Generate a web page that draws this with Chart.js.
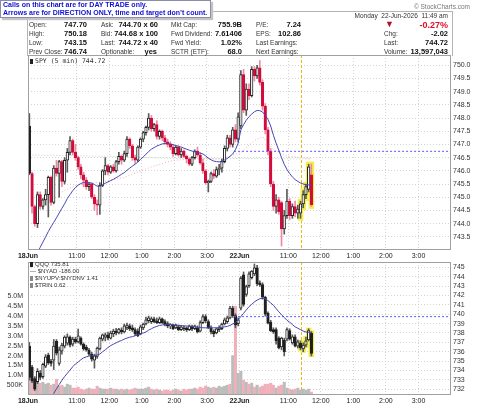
<!DOCTYPE html>
<html>
<head>
<meta charset="utf-8">
<script src="https://cdn.jsdelivr.net/npm/chart.js@4.4.1/dist/chart.umd.min.js"></script>
<style>
body{margin:0;background:#fff;font-family:"Liberation Sans",Arial,sans-serif;color:#222}
#page{position:relative;width:480px;height:406px;overflow:hidden;background:#fff}
canvas{position:absolute;left:0}
.t{position:absolute;white-space:nowrap;font-size:6.5px;line-height:8px;color:#333}
.v{position:absolute;white-space:nowrap;font-size:7.5px;line-height:8px;font-weight:bold;color:#111}
#banner{position:absolute;left:0;top:0;width:207px;height:16px;border:1px solid #8c8ca8;background:#fff;
  box-shadow:2px 2px 1px #c4c4c4;color:#1010d0;font-weight:bold;font-size:7px;line-height:8px;padding-left:2px;z-index:5}
#hdr{position:absolute;left:27px;top:11px;width:424px;height:44px;border:1px solid #b4b4b4;border-bottom:0}
.lg{position:absolute;white-space:nowrap;font-size:6.5px;line-height:7px;color:#333;z-index:3}
.ic{display:inline-block;width:3px;height:5px;background:#222;margin-right:2px;vertical-align:-1px}
</style>
</head>
<body>
<div id="page">
  <canvas id="c1" width="480" height="212" style="top:50px"></canvas>
  <canvas id="c2" width="480" height="150" style="top:256px"></canvas>

  <div id="hdr"></div>
  <div id="banner">Calls on this chart are for DAY TRADE only.<br>Arrows are for DIRECTION ONLY, time and target don’t count.</div>
  <div class="t" style="right:10px;top:3px;color:#777;font-size:6.5px">© StockCharts.com</div>
  <div class="t" style="right:32px;top:12px">Monday&nbsp; 22-Jun-2026&nbsp; 11:49 am</div>

  <!-- header rows -->
  <div class="t" style="left:29px;top:21px">Open:</div><div class="v" style="right:393px;top:21px">747.70</div>
  <div class="t" style="left:29px;top:30px">High:</div><div class="v" style="right:393px;top:30px">750.18</div>
  <div class="t" style="left:29px;top:39px">Low:</div><div class="v" style="right:393px;top:39px">743.15</div>
  <div class="t" style="left:29px;top:48px">Prev Close:</div><div class="v" style="right:393px;top:48px">746.74</div>

  <div class="t" style="left:101px;top:21px">Ask:</div><div class="v" style="right:322px;top:21px">744.70 x 60</div>
  <div class="t" style="left:101px;top:30px">Bid:</div><div class="v" style="right:322px;top:30px">744.68 x 100</div>
  <div class="t" style="left:101px;top:39px">Last:</div><div class="v" style="right:322px;top:39px">744.72 x 40</div>
  <div class="t" style="left:101px;top:48px">Optionable:</div><div class="v" style="right:323px;top:48px">yes</div>

  <div class="t" style="left:171px;top:21px">Mkt Cap:</div><div class="v" style="right:238px;top:21px">755.9B</div>
  <div class="t" style="left:171px;top:30px">Fwd Dividend:</div><div class="v" style="right:238px;top:30px">7.61406</div>
  <div class="t" style="left:171px;top:39px">Fwd Yield:</div><div class="v" style="right:238px;top:39px">1.02%</div>
  <div class="t" style="left:171px;top:48px">SCTR (ETF):</div><div class="v" style="right:238px;top:48px">68.0</div>

  <div class="t" style="left:256px;top:21px">P/E:</div><div class="v" style="right:179px;top:21px">7.24</div>
  <div class="t" style="left:256px;top:30px">EPS:</div><div class="v" style="right:179px;top:30px">102.86</div>
  <div class="t" style="left:256px;top:39px">Last Earnings:</div>
  <div class="t" style="left:256px;top:48px">Next Earnings:</div>

  <div class="t" style="left:385px;top:20px;color:#b0102a;font-size:9px">▼</div><div class="v" style="right:32px;top:20px;color:#e0102a;font-size:9px;line-height:10px">-0.27%</div>
  <div class="t" style="left:384px;top:30px">Chg:</div><div class="v" style="right:32px;top:30px">-2.02</div>
  <div class="t" style="left:384px;top:39px">Last:</div><div class="v" style="right:32px;top:39px">744.72</div>
  <div class="t" style="left:384px;top:48px">Volume:</div><div class="v" style="right:32px;top:48px">13,597,043</div>

  <!-- panel legends -->
  <div class="lg" style="left:30px;top:58px;font-family:'DejaVu Sans Mono',monospace"><span class="ic"></span>SPY (5 min) 744.72</div>
  <div class="lg" style="left:30px;top:261px;font-size:6px"><span class="ic"></span>QQQ 735.81</div>
  <div class="lg" style="left:30px;top:268px;font-size:6px">— $NYAD -186.00</div>
  <div class="lg" style="left:30px;top:275px;font-size:6px"><span class="ic" style="background:#888"></span>$NYUPV:$NYDNV 1.41</div>
  <div class="lg" style="left:30px;top:282px;font-size:6px"><span class="ic" style="background:#888"></span>$TRIN 0.62</div>
</div>

<script>
//--Datos: dos sesiones de velas de 5 min (78 por dia), la segunda hasta 11:45----
var xTickPos    = [-0.5, 17.5, 29.5, 41.5, 53.5, 65.5, 77.5, 95.5, 107.5, 119.5, 131.5, 143.5];
var xTickLabels = ['18Jun', '11:00', '12:00', '1:00', '2:00', '3:00', '22Jun', '11:00', '12:00', '1:00', '2:00', '3:00'];
var spyTicks = [743.5, 744.0, 744.5, 745.0, 745.5, 746.0, 746.5, 747.0, 747.5, 748.0, 748.5, 749.0, 749.5, 750.0];
var qqqTicks = [732, 733, 734, 735, 736, 737, 738, 739, 740, 741, 742, 743, 744, 745];
var volTicks = [0.5, 1.0, 1.5, 2.0, 2.5, 3.0, 3.5, 4.0, 4.5, 5.0];

var spyPrevClose = 746.74;
var qqqPrevClose = 739.74;
var cutIdx = 100;       // linea amarilla vertical
var hiliteFrom = 100;   // velas resaltadas en amarillo

var spyOpen = [747.70,745.90,744.65,744.00,745.10,744.65,744.90,745.10,745.75,744.80,
746.10,745.90,746.35,745.60,746.40,746.70,747.15,746.70,746.50,746.15,
745.85,745.65,745.40,745.50,745.00,744.75,744.70,745.45,746.00,746.20,
745.95,746.15,746.00,746.35,746.55,746.40,746.65,747.20,746.95,746.50,
746.40,746.90,747.20,747.45,747.65,748.00,747.60,747.75,747.30,747.50,
747.25,747.10,747.00,746.90,746.65,746.90,746.60,746.75,746.55,746.45,
746.25,746.50,746.75,746.60,746.30,746.00,745.55,745.60,745.90,745.80,
746.05,746.10,746.35,746.85,747.25,747.00,747.55,747.20,
747.70,749.65,748.30,749.10,748.85,749.85,749.60,749.90,749.35,748.45,747.55,746.75,
745.50,744.65,744.90,744.80,743.80,744.30,744.85,744.30,744.65,744.40,
744.40,744.75,745.10,745.30,745.85];
var spyHigh = [748.17,745.95,744.70,745.20,745.20,744.95,745.30,745.80,745.80,746.20,
746.40,746.40,746.40,746.50,746.85,747.30,747.20,747.00,746.55,746.25,
745.95,745.75,745.55,745.55,745.10,744.90,745.55,746.05,746.50,746.25,
746.20,746.25,746.40,746.70,746.60,746.75,747.30,747.25,747.00,746.60,
746.95,747.25,747.50,747.70,748.17,748.10,747.80,747.90,747.55,747.55,
747.35,747.20,747.10,747.00,746.95,746.95,746.85,746.80,746.60,746.50,
746.55,746.80,746.90,746.70,746.45,746.05,745.65,745.95,746.05,746.15,
746.25,746.45,746.95,747.35,747.35,747.65,747.75,748.20,
749.80,749.85,749.30,749.30,749.95,749.95,750.00,750.18,749.45,748.55,747.65,746.85,
745.60,745.10,745.00,744.85,744.50,745.30,744.95,744.75,744.85,744.70,
744.85,745.25,745.50,746.25,746.26];
var spyLow = [745.85,744.40,743.90,743.85,744.55,744.55,744.70,744.25,744.70,744.75,
745.80,745.00,745.40,745.50,745.95,746.60,746.60,746.40,746.05,745.70,
745.40,745.30,745.25,744.95,744.50,744.33,744.35,745.40,745.85,745.85,
745.90,745.95,745.95,746.25,746.25,746.35,746.55,746.85,746.40,746.28,
746.35,746.85,747.10,747.35,747.55,747.50,747.50,747.20,747.20,747.15,
747.00,746.90,746.80,746.55,746.60,746.55,746.50,746.50,746.30,746.20,
746.20,746.45,746.55,746.25,745.90,745.50,745.20,745.55,745.70,745.75,
745.85,745.95,746.30,746.75,746.90,746.90,747.10,747.10,
747.60,748.20,748.10,748.70,748.80,749.40,749.50,749.25,748.30,747.40,746.60,745.40,
744.50,744.40,744.35,743.15,743.60,744.20,744.15,744.20,744.25,744.20,
744.20,744.60,744.95,745.20,744.65];
var spyClose = [745.90,744.65,744.00,745.10,744.65,744.90,745.10,745.75,744.80,746.10,
745.90,746.35,745.60,746.40,746.70,747.15,746.70,746.50,746.15,745.85,
745.65,745.40,745.50,745.00,744.75,744.70,745.45,746.00,746.20,745.95,
746.15,746.00,746.35,746.55,746.40,746.65,747.20,746.95,746.50,746.40,
746.90,747.20,747.45,747.65,748.00,747.60,747.75,747.30,747.50,747.25,
747.10,747.00,746.90,746.65,746.90,746.60,746.75,746.55,746.45,746.25,
746.50,746.75,746.60,746.30,746.00,745.55,745.60,745.90,745.80,746.05,
746.10,746.35,746.85,747.25,747.00,747.55,747.20,748.05,
749.65,748.30,749.10,748.85,749.85,749.60,749.90,749.35,748.45,747.55,746.75,745.50,
744.65,744.90,744.45,743.80,744.30,744.85,744.30,744.65,744.40,744.55,
744.75,745.10,745.40,746.15,744.72];
var spyMA20 = [null,null,null,742.90,743.10,743.30,743.50,743.70,743.88,744.05,
744.22,744.40,744.58,744.75,744.95,745.10,745.25,745.37,745.46,745.52,
745.56,745.57,745.56,745.53,745.48,745.42,745.42,745.47,745.53,745.58,
745.63,745.68,745.74,745.80,745.87,745.93,746.02,746.10,746.18,746.25,
746.33,746.43,746.53,746.63,746.73,746.82,746.88,746.94,746.98,747.02,
747.04,747.04,747.02,746.99,746.96,746.93,746.90,746.86,746.82,746.78,
746.75,746.72,746.70,746.67,746.64,746.57,746.48,746.42,746.37,746.35,
746.34,746.37,746.41,746.47,746.55,746.64,746.80,747.05,
747.55,747.75,747.92,748.05,748.15,748.24,748.29,748.28,748.23,748.10,747.95,747.70,
747.35,747.05,746.78,746.50,746.25,746.05,745.90,745.77,745.67,745.60,
745.54,745.50,745.47,745.47,745.48];
var spyMA50Idx = [11, 17, 25, 35, 45, 53, 62, 71, 78, 83, 86, 90, 95, 104];
var spyMA50    = [745.15, 745.45, 745.55, 745.75, 746.15, 746.40, 746.45, 746.45, 746.70, 747.15, 747.30, 746.80, 746.55, 746.47];
var spyMA200Idx = [0, 30, 53, 80, 104];
var spyMA200    = [746.60, 746.55, 746.47, 746.47, 746.45];

var qqqOpen = [736.60,734.35,733.15,732.80,733.70,733.35,734.45,735.65,735.00,735.10,
737.10,734.75,736.05,736.60,736.90,737.55,736.80,737.35,737.05,737.45,
736.80,736.50,736.15,735.75,735.10,735.50,736.30,737.35,737.55,737.80,
737.45,737.90,738.20,738.00,738.30,738.10,738.55,738.75,738.55,738.35,
738.20,737.90,738.55,738.95,739.30,739.20,739.50,739.30,739.10,739.50,
739.20,739.00,738.75,738.85,738.55,738.65,738.35,738.55,738.55,738.35,
738.65,738.45,738.55,738.20,739.10,739.75,739.20,738.55,738.20,738.00,
738.35,738.45,738.95,739.20,739.60,740.65,739.85,739.00,
740.65,744.20,742.10,743.05,743.90,744.30,744.95,743.35,743.15,741.80,740.10,739.15,
738.35,738.35,737.45,736.50,737.25,737.35,738.25,736.95,737.60,736.60,
736.90,736.30,736.70,737.25,738.00];
var qqqHigh = [737.00,734.55,733.35,734.20,734.00,734.80,735.70,735.85,735.20,737.30,
737.30,736.50,736.90,737.70,737.90,737.70,737.55,737.55,738.40,737.60,
736.95,736.70,736.35,735.95,735.75,736.50,737.55,737.90,738.00,738.10,
738.20,738.40,738.50,738.50,738.55,738.95,739.05,738.95,738.85,738.55,
738.45,738.85,739.05,739.70,739.80,739.70,739.70,739.60,739.70,739.60,
739.40,739.20,739.00,738.95,738.95,738.85,738.75,738.75,738.65,738.85,
738.85,738.85,738.75,739.30,739.95,739.95,739.40,738.75,738.35,738.55,
738.75,739.05,739.60,739.80,740.85,740.85,740.05,739.60,
744.00,744.50,743.10,744.50,744.65,745.35,745.20,743.55,743.35,741.90,740.25,739.35,
738.55,738.55,737.60,737.55,737.45,738.55,738.45,737.80,737.80,737.25,
737.15,736.95,737.55,738.45,738.15];
var qqqLow = [733.00,732.70,731.85,732.60,733.00,733.15,734.30,734.65,734.45,734.10,
735.65,734.55,735.75,736.40,736.70,736.50,736.60,736.90,736.95,736.70,
736.15,736.05,735.60,735.00,734.25,735.30,736.20,737.15,737.15,737.25,
737.35,737.60,737.80,737.90,737.90,738.00,738.35,738.25,738.15,737.70,
737.60,737.80,738.35,738.85,739.10,739.00,739.10,739.00,739.00,739.00,
738.75,738.55,738.45,738.35,738.45,738.25,738.25,738.25,738.15,738.25,
738.25,738.35,738.00,738.10,739.00,739.10,738.45,737.90,737.60,737.90,
738.15,738.35,738.85,739.00,739.50,739.65,738.55,738.75,
740.45,740.85,741.90,742.85,743.75,744.10,743.05,742.95,741.60,739.80,738.95,738.15,
737.95,736.80,736.30,736.20,735.55,737.15,737.25,736.80,736.50,736.40,
736.20,736.00,736.50,737.15,735.55];
var qqqClose = [733.25,732.90,732.00,733.90,733.25,734.65,735.45,734.80,734.75,736.60,
735.85,736.20,736.70,737.55,737.60,736.70,737.35,737.05,737.70,736.80,
736.30,736.20,735.75,735.20,735.55,736.40,737.45,737.80,737.80,737.45,
738.00,738.20,738.00,738.40,738.10,738.75,738.85,738.45,738.35,737.90,
737.70,738.65,738.95,739.40,739.60,739.50,739.20,739.10,739.50,739.10,
738.85,738.75,738.85,738.45,738.85,738.35,738.65,738.45,738.35,738.75,
738.45,738.75,738.10,739.10,739.75,739.30,738.55,738.10,737.90,738.45,
738.55,738.95,739.40,739.60,740.65,739.85,738.85,739.40,
743.85,741.05,742.95,744.30,744.60,744.95,743.25,743.15,741.80,740.00,739.05,738.25,
738.15,737.15,736.40,737.45,736.00,738.35,737.35,737.60,736.60,737.05,
736.40,736.70,737.15,738.25,735.81];
var qqqMA = [null,null,null,null,null,null,null,null,731.10,731.55,
732.05,732.50,732.95,733.35,733.70,734.05,734.40,734.70,734.90,735.15,
735.35,735.45,735.55,735.55,735.60,735.65,735.75,736.00,736.20,736.45,
736.65,736.80,736.95,737.10,737.20,737.35,737.45,737.55,737.60,737.70,
737.80,737.90,738.00,738.10,738.30,738.45,738.60,738.70,738.80,738.85,
738.90,738.90,738.90,738.85,738.85,738.80,738.80,738.75,738.75,738.70,
738.70,738.65,738.60,738.60,738.55,738.55,738.55,738.55,738.55,738.55,
738.55,738.60,738.65,738.70,738.80,738.95,739.10,739.40,
739.75,740.10,740.45,740.80,741.05,741.30,741.50,741.65,741.70,741.65,741.45,741.20,
740.95,740.60,740.25,739.95,739.65,739.35,739.15,738.90,738.65,738.50,
738.35,738.20,738.10,738.05,738.00];
// volumen en millones
var volume = [0.95,0.75,0.85,0.70,0.60,0.65,0.55,0.60,0.50,0.55,
0.80,0.45,0.50,0.40,0.55,0.50,0.35,0.35,0.40,0.30,
0.25,0.30,0.35,0.30,0.30,0.45,0.35,0.30,0.30,0.30,
0.35,0.30,0.30,0.25,0.30,0.25,0.30,0.25,0.30,0.35,
0.30,0.30,0.30,0.35,0.40,0.30,0.25,0.30,0.25,0.20,
0.25,0.25,0.20,0.25,0.30,0.25,0.20,0.30,0.25,0.30,
0.30,0.35,0.30,0.40,0.35,0.45,0.40,0.35,0.40,0.35,
0.45,0.40,0.45,0.50,0.55,2.00,4.50,1.10,
1.20,0.75,0.65,0.55,0.60,0.40,0.50,0.40,0.45,0.55,0.55,0.60,
0.50,0.35,0.45,0.50,0.65,0.35,0.30,0.25,0.30,0.35,
0.25,0.30,0.25,0.30,0.15];

//--Colores----------------------------
var RED = '#d20c3c', RED_WICK = '#eb8aa0', BLACK = '#202020', WICK = '#5a5a5a';
var MA_BLUE = '#4646b4', YELLOW = '#f4ef4e';

function pts(arr){ return arr.map(function(v, i){ return {x: i, y: v}; }); }
function sparse(idx, arr){ return idx.map(function(v, i){ return {x: v, y: arr[i]}; }); }

//--Velas como barras flotantes (mecha + cuerpo)----------------------------
function candleSets(o, h, l, c, useRed, w){
    var body = [], wick = [], glow = [], bodyCol = [], bodyFill = [], wickCol = [];
    for (var i = 0; i < c.length; i++){
        body.push({x: i, y: [o[i], c[i]]});
        wick.push({x: i, y: [l[i], h[i]]});
        if (i >= hiliteFrom) glow.push({x: i, y: [l[i] - 0.08, h[i] + 0.08]});
        var red = useRed && i > 0 && c[i] < c[i-1];
        var col = red ? RED : BLACK;
        bodyCol.push(col);
        bodyFill.push(c[i] < o[i] ? col : '#ffffff');
        wickCol.push(red ? RED_WICK : WICK);
    }
    return [
        {type: 'bar', data: glow, backgroundColor: YELLOW, barThickness: 5, grouped: false, order: 9, yAxisID: 'y'},
        {type: 'bar', data: wick, backgroundColor: wickCol, barThickness: 1, grouped: false, order: 6, yAxisID: 'y'},
        {type: 'bar', data: body, backgroundColor: bodyFill, borderColor: bodyCol, borderWidth: 1, borderSkipped: false,
         barThickness: w, grouped: false, minBarLength: 1, order: 5, yAxisID: 'y'}
    ];
}

function lineSet(data, color, dash, order){
    return {type: 'line', data: data, borderColor: color, borderWidth: 1, borderDash: dash || [],
            pointRadius: 0, tension: 0, fill: false, order: order, yAxisID: 'y'};
}

//--Marco del panel y linea amarilla----------------------------
var framePlugin = {
    id: 'frame',
    beforeDatasetsDraw: function(chart){
        var ctx = chart.ctx, a = chart.chartArea;
        var x = Math.round(chart.scales.x.getPixelForValue(cutIdx)) + 0.5;
        ctx.save();
        ctx.strokeStyle = '#f2b800';
        ctx.lineWidth = 1;
        ctx.setLineDash([3, 2]);
        ctx.beginPath(); ctx.moveTo(x, a.top); ctx.lineTo(x, a.bottom); ctx.stroke();
        ctx.restore();
    },
    afterDatasetsDraw: function(chart){
        var ctx = chart.ctx, a = chart.chartArea;
        ctx.save();
        ctx.strokeStyle = '#a0a0a0';
        ctx.lineWidth = 1;
        ctx.strokeRect(Math.round(a.left) + 0.5, Math.round(a.top) + 0.5,
                       Math.round(a.right - a.left) - 1, Math.round(a.bottom - a.top) - 1);
        ctx.restore();
    }
};

function xScale(h){
    return {
        type: 'linear', min: -0.5, max: 155.5, offset: false,
        afterBuildTicks: function(ax){ ax.ticks = xTickPos.map(function(v){ return {value: v}; }); },
        afterFit: function(ax){ ax.height = h; ax.paddingLeft = 0; ax.paddingRight = 0; },
        grid: {color: '#d4d4d4', drawTicks: false, offset: false},
        border: {display: false, dash: [1, 2]},
        ticks: {
            padding: 2, maxRotation: 0, autoSkip: false, color: '#222',
            font: function(c){ return {family: 'Liberation Sans', size: 7,
                weight: (xTickLabels[c.index] || '').indexOf('Jun') >= 0 ? 'bold' : 'normal'}; },
            callback: function(v, i){ return xTickLabels[i]; }
        }
    };
}

function priceScale(min, max, ticks, fmt){
    return {
        position: 'right', min: min, max: max,
        afterBuildTicks: function(ax){ ax.ticks = ticks.map(function(v){ return {value: v}; }); },
        afterFit: function(ax){ ax.width = 29; ax.paddingTop = 0; ax.paddingBottom = 0; },
        grid: {color: '#d4d4d4', drawTicks: false},
        border: {display: false, dash: [1, 2]},
        ticks: {padding: 2, autoSkip: false, color: '#333', font: {family: 'Liberation Sans', size: 7},
                callback: function(v){ return v.toFixed(fmt); }}
    };
}

//--Panel superior: SPY----------------------------
var spySets = candleSets(spyOpen, spyHigh, spyLow, spyClose, true, 2.6);
spySets.push(lineSet(pts(spyMA20), MA_BLUE, null, 2));
spySets.push(lineSet(sparse(spyMA50Idx, spyMA50), '#f4a8b8', [1, 2], 7));
spySets.push(lineSet(sparse(spyMA200Idx, spyMA200), '#b4d8b0', [1, 2], 8));
spySets.push(lineSet([{x: 75.5, y: spyPrevClose}, {x: 155.5, y: spyPrevClose}], '#5a5aff', [2, 2], 3));

new Chart(document.getElementById('c1'), {
    type: 'bar',
    data: {datasets: spySets},
    options: {
        responsive: false, animation: false, devicePixelRatio: 1,
        layout: {padding: {left: 28, top: 5, right: 0, bottom: 0}},
        plugins: {legend: {display: false}, tooltip: {enabled: false}},
        scales: {x: xScale(12), y: priceScale(743.0, 750.39, spyTicks, 1)}
    },
    plugins: [framePlugin]
});

//--Panel inferior: QQQ + volumen----------------------------
var qqqSets = candleSets(qqqOpen, qqqHigh, qqqLow, qqqClose, false, 2.6);
qqqSets.push(lineSet(pts(qqqMA), MA_BLUE, null, 2));
qqqSets.push(lineSet([{x: 75.5, y: qqqPrevClose}, {x: 155.5, y: qqqPrevClose}], '#5a5aff', [2, 2], 3));
qqqSets.push({
    type: 'bar', data: pts(volume), yAxisID: 'yv', barThickness: 2.4, grouped: false, order: 20,
    backgroundColor: volume.map(function(v, i){ return i > 0 && spyClose[i] < spyClose[i-1] ? '#f0b0ba' : '#bcbcbc'; })
});

var volScale = {
    position: 'left', min: 0, max: 6.75,
    afterBuildTicks: function(ax){ ax.ticks = volTicks.map(function(v){ return {value: v}; }); },
    afterFit: function(ax){ ax.width = 28; ax.paddingTop = 0; ax.paddingBottom = 0; },
    grid: {display: false, drawTicks: false},
    border: {display: false},
    ticks: {padding: 5, autoSkip: false, color: '#333', font: {family: 'Liberation Sans', size: 7},
            callback: function(v){ return v < 1 ? (v * 1000) + 'K' : v.toFixed(1) + 'M'; }}
};

new Chart(document.getElementById('c2'), {
    type: 'bar',
    data: {datasets: qqqSets},
    options: {
        responsive: false, animation: false, devicePixelRatio: 1,
        layout: {padding: {left: 0, top: 6, right: 0, bottom: 0}},
        plugins: {legend: {display: false}, tooltip: {enabled: false}},
        scales: {x: xScale(11), yv: volScale, y: priceScale(731.39, 745.56, qqqTicks, 0)}
    },
    plugins: [framePlugin]
});
</script>
</body>
</html>
